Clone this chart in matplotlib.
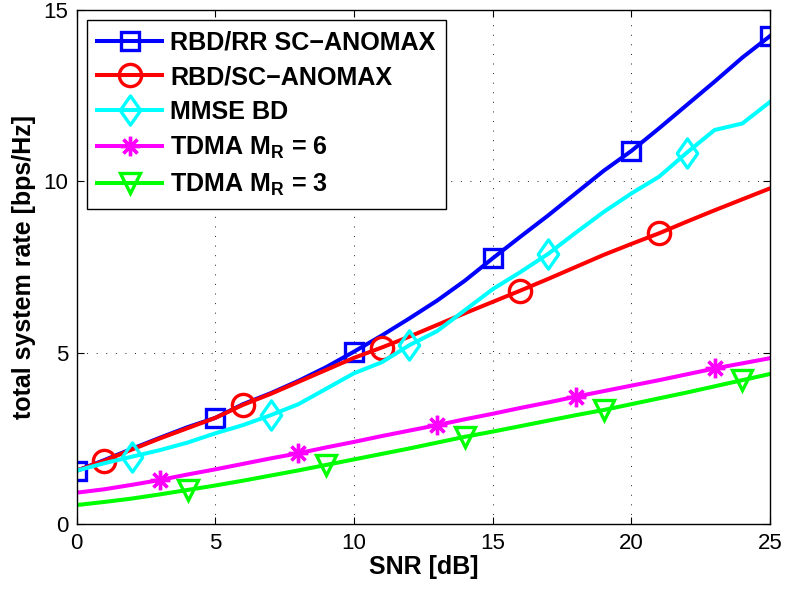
import matplotlib
matplotlib.use("Agg")
import matplotlib.pyplot as plt
from matplotlib.path import Path

plt.rcParams["font.family"] = ["Liberation Sans", "DejaVu Sans"]
plt.rcParams["mathtext.fontset"] = "custom"
plt.rcParams["mathtext.rm"] = "Liberation Sans"
plt.rcParams["mathtext.bf"] = "Liberation Sans:bold"
plt.rcParams["mathtext.it"] = "Liberation Sans:italic"

# SNR grid in dB
snr_db = list(range(26))

# total system rate [bps/Hz] per scheme
rbd_rr_sc_anomax = [1.56, 1.87, 2.20, 2.52, 2.83, 3.10, 3.50, 3.82, 4.18, 4.58,
                    5.03, 5.50, 6.00, 6.52, 7.10, 7.75, 8.38, 9.00, 9.65, 10.30,
                    10.88, 11.54, 12.22, 12.90, 13.60, 14.23]
rbd_sc_anomax = [1.56, 1.85, 2.18, 2.50, 2.80, 3.10, 3.48, 3.80, 4.15, 4.50,
                 4.85, 5.15, 5.47, 5.81, 6.15, 6.48, 6.81, 7.15, 7.50, 7.85,
                 8.17, 8.48, 8.82, 9.15, 9.47, 9.79]
mmse_bd = [1.56, 1.78, 1.97, 2.16, 2.38, 2.65, 2.89, 3.18, 3.50, 3.95,
           4.40, 4.72, 5.22, 5.63, 6.24, 6.85, 7.35, 7.88, 8.50, 9.10,
           9.64, 10.13, 10.83, 11.49, 11.68, 12.31]
tdma_mr6 = [0.92, 1.02, 1.15, 1.29, 1.45, 1.60, 1.76, 1.92, 2.07, 2.24,
            2.40, 2.57, 2.73, 2.89, 3.06, 3.22, 3.39, 3.55, 3.72, 3.88,
            4.04, 4.20, 4.37, 4.54, 4.69, 4.84]
tdma_mr3 = [0.56, 0.65, 0.75, 0.87, 1.00, 1.13, 1.27, 1.42, 1.57, 1.73,
            1.89, 2.05, 2.21, 2.38, 2.55, 2.70, 2.86, 3.02, 3.18, 3.33,
            3.50, 3.67, 3.84, 4.02, 4.20, 4.38]

series_labels = ["RBD/RR SC\u2212ANOMAX", "RBD/SC\u2212ANOMAX", "MMSE BD",
                 r"TDMA $\mathbf{M_R}$ = 6", r"TDMA $\mathbf{M_R}$ = 3"]

x_ticks = [0, 5, 10, 15, 20, 25]
y_ticks = [0, 5, 10, 15]

# tall diamond marker
tall_diamond = Path([(0, 1), (0.7, 0), (0, -1), (-0.7, 0), (0, 1)],
                    [Path.MOVETO, Path.LINETO, Path.LINETO, Path.LINETO, Path.CLOSEPOLY])

styles = [
    dict(color=(0, 0, 1), marker="s", ms=12.5, markevery=(0, 5)),
    dict(color=(1, 0, 0), marker="o", ms=16, markevery=(1, 5)),
    dict(color=(0, 1, 1), marker=tall_diamond, ms=21, markevery=(2, 5)),
    dict(color=(1, 0, 1), marker=(8, 2, 0), ms=14, markevery=(3, 5)),
    dict(color=(0, 1, 0), marker="v", ms=15, markevery=(4, 5)),
]
series = [rbd_rr_sc_anomax, rbd_sc_anomax, mmse_bd, tdma_mr6, tdma_mr3]

fig = plt.figure(figsize=(7.85, 5.93), dpi=100)
ax = fig.add_axes([0.0975, 0.1159, 0.8835, 0.868])

for y, lab, st in zip(series, series_labels, styles):
    ax.plot(snr_db, y, color=st["color"], lw=2.9, marker=st["marker"],
            ms=st["ms"], markevery=st["markevery"], mfc="none",
            mec=st["color"], mew=2.4, label=lab)

ax.set_xlim(0, 25)
ax.set_ylim(0, 15)
ax.set_xticks(x_ticks)
ax.set_yticks(y_ticks)
ax.tick_params(direction="in", length=5, width=0.8, top=True, right=True,
               labelsize=16, pad=6)
ax.grid(True, color="black", linestyle=(0, (1.2, 10.3)), linewidth=0.6)
for sp in ax.spines.values():
    sp.set_linewidth(1.0)

ax.set_xlabel("SNR [dB]", fontsize=18, fontweight="bold", labelpad=1)
ax.set_ylabel("total system rate [bps/Hz]", fontsize=18, fontweight="bold", labelpad=5)

leg = ax.legend(loc="upper left", bbox_to_anchor=(0.015, 0.98), borderaxespad=0,
                prop=dict(size=18.1, weight="bold"), numpoints=1, handlelength=2.55,
                handletextpad=0.35, labelspacing=0.43, borderpad=0.42,
                fancybox=False, framealpha=1, edgecolor="black")
leg.get_frame().set_linewidth(1.0)

fig.savefig("out.png", dpi=100)
